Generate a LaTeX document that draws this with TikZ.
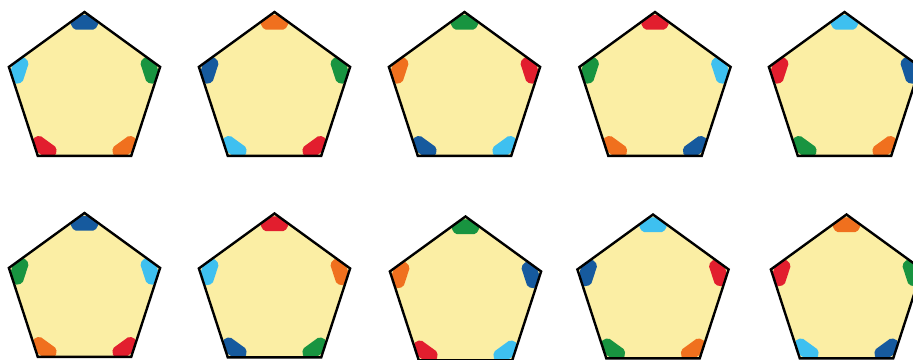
\documentclass[tikz,border=0pt]{standalone}
\usepackage{tikz}
\usetikzlibrary{shapes.geometric,calc}
\definecolor{padyellow}{RGB}{251,238,164}
\definecolor{pblue}{RGB}{22,90,158}
\definecolor{porange}{RGB}{240,112,30}
\definecolor{pgreen}{RGB}{24,148,64}
\definecolor{pred}{RGB}{226,30,46}
\definecolor{plight}{RGB}{62,192,240}
\newcommand{\cornermark}[5]{%
  \fill[#5, rounded corners=2pt]
    ($(#1.corner #2)!5pt!(#1.corner #3)$) -- ($(#1.corner #2)!18pt!(#1.corner #3)$)
    -- ($($(#1.corner #2)!15pt!(#1.corner #3)$)!9pt!(#1.center)$)
    -- ($($(#1.corner #2)!15pt!(#1.corner #4)$)!9pt!(#1.center)$)
    -- ($(#1.corner #2)!18pt!(#1.corner #4)$) -- ($(#1.corner #2)!5pt!(#1.corner #4)$) -- cycle;}

\begin{document}
\begin{tikzpicture}[x=1pt, y=-1pt,
  pent/.style={regular polygon, regular polygon sides=5, minimum size=159pt,
    inner sep=0pt, outer sep=0pt, fill=padyellow},
  rim/.style={draw=black, line width=2.4pt, line join=miter}
]
\useasboundingbox (0,0) rectangle (913,359);
% row 1
\node[pent] (p1) at (84.5,91.5) {};
\node[pent] (p2) at (274.5,91.5) {};
\node[pent] (p3) at (464.5,91.5) {};
\node[pent] (p4) at (655,91.5) {};
\node[pent] (p5) at (844.5,91.5) {};
% row 2
\node[pent] (p6) at (84.5,292.5) {};
\node[pent] (p7) at (274.5,293) {};
\node[pent] (p8) at (465.5,296) {};
\node[pent] (p9) at (653,294) {};
\node[pent] (p10) at (846.5,294) {};

% colour at each corner: top, upper left, lower left, lower right, upper right
\foreach \i/\cols in {1/{pblue,plight,pred,porange,pgreen},
                      2/{porange,pblue,plight,pred,pgreen},
                      3/{pgreen,porange,pblue,plight,pred},
                      4/{pred,pgreen,porange,pblue,plight},
                      5/{plight,pred,pgreen,porange,pblue},
                      6/{pblue,pgreen,porange,pred,plight},
                      7/{pred,plight,pblue,pgreen,porange},
                      8/{pgreen,porange,pred,plight,pblue},
                      9/{plight,pblue,pgreen,porange,pred},
                      10/{porange,pred,plight,pblue,pgreen}}{
  \foreach \c [count=\k] in \cols {
    \pgfmathtruncatemacro{\kprev}{mod(\k+3,5)+1}
    \pgfmathtruncatemacro{\knext}{mod(\k,5)+1}
    \cornermark{p\i}{\k}{\kprev}{\knext}{\c}
  }
}

\foreach \i in {1,...,10}
  \draw[rim] (p\i.corner 1) -- (p\i.corner 2) -- (p\i.corner 3)
    -- (p\i.corner 4) -- (p\i.corner 5) -- cycle;
\end{tikzpicture}
\end{document}
